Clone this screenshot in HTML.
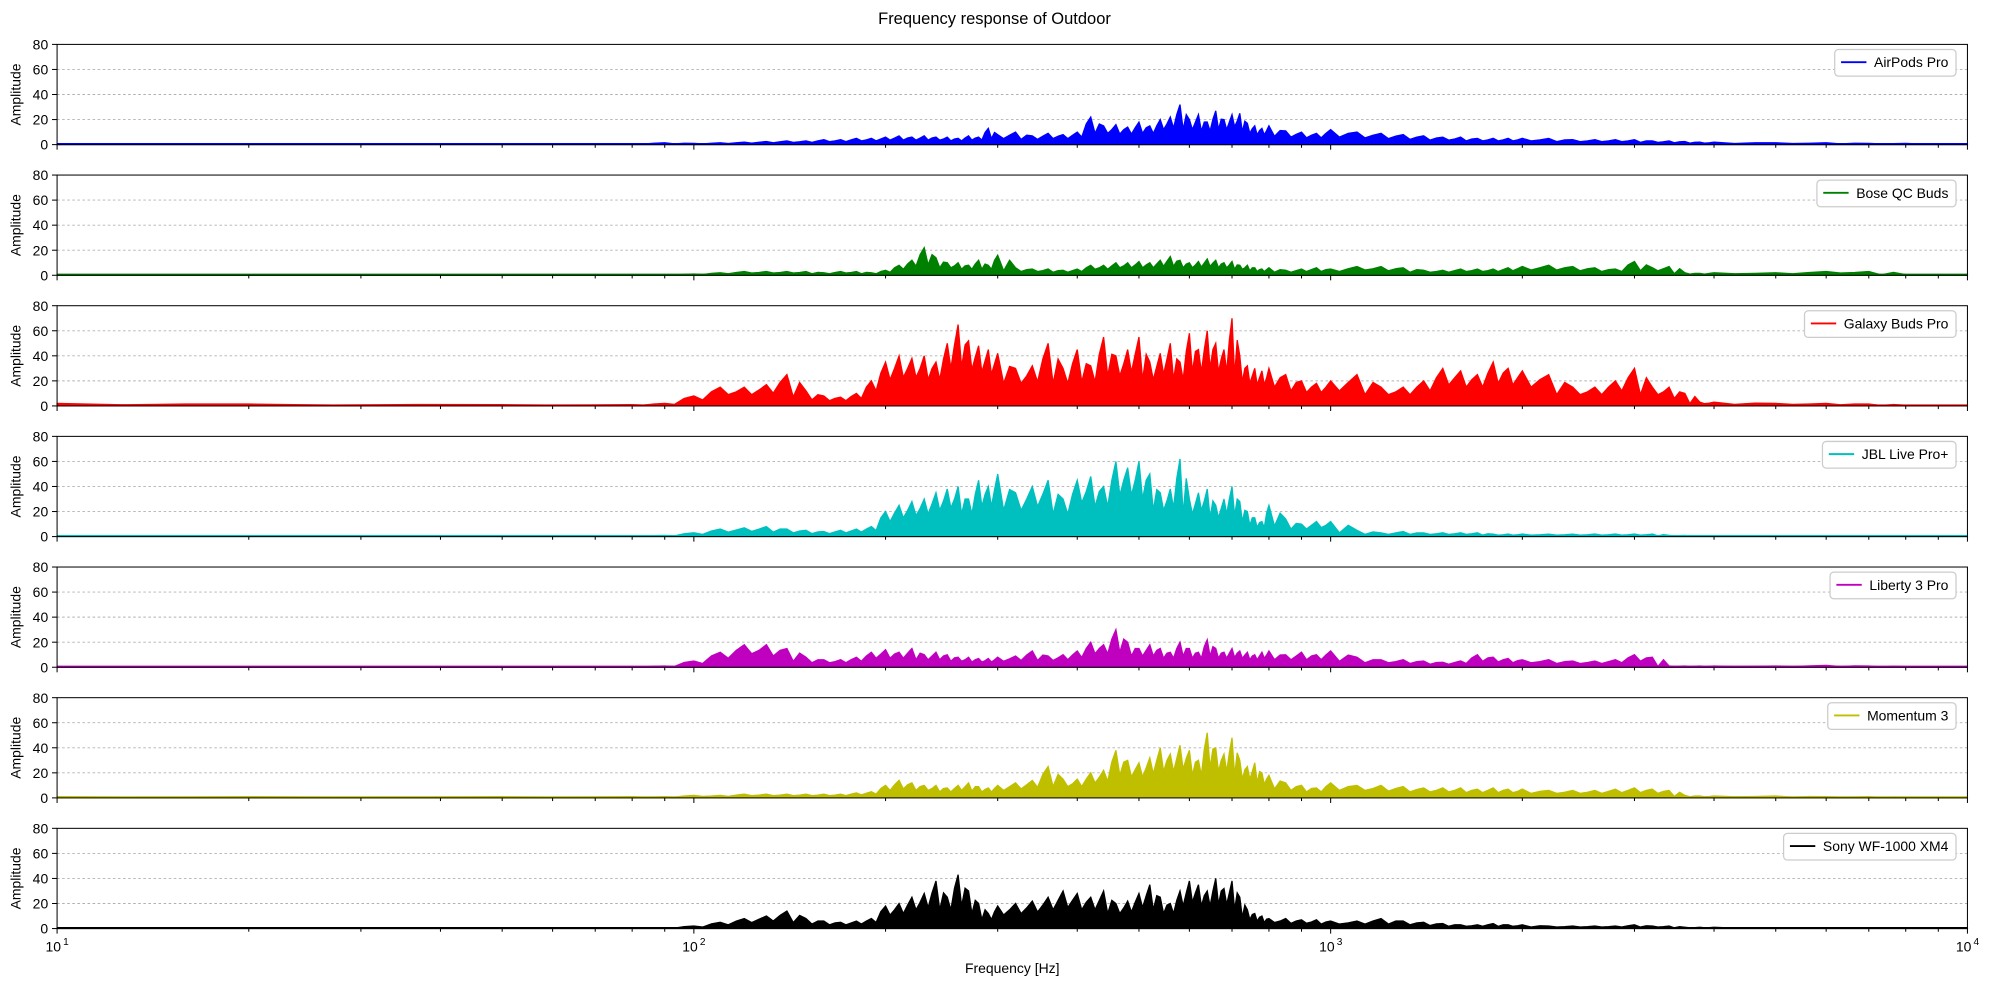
<!DOCTYPE html>
<html><head><meta charset="utf-8"><style>
body{margin:0;background:#fff;}
svg text{font-family:"Liberation Sans",sans-serif;fill:#000;}
</style></head><body>
<svg id="chart" width="1989" height="985" viewBox="0 0 1568 776.5" preserveAspectRatio="none" xmlns="http://www.w3.org/2000/svg">
<text x="784" y="19" font-size="13" text-anchor="middle">Frequency response of Outdoor</text>
<text x="798" y="767" font-size="11" text-anchor="middle">Frequency [Hz]</text>
</svg>
<script>
const freqs=[10,20,50,80,90,100,110,120,130,140,150,160,170,180,190,200,210,220,230,240,250,260,270,280,290,300,320,340,360,380,400,420,440,460,480,500,520,540,560,580,600,620,640,660,680,700,720,740,760,780,800,850,900,950,1000,1100,1200,1300,1400,1500,1600,1700,1800,1900,2000,2200,2400,2600,2800,3000,3200,3400,3600,3800,4000,5000,6000,7000,8000,10000];
const seriesNames=["AirPods Pro","Bose QC Buds","Galaxy Buds Pro","JBL Live Pro+","Liberty 3 Pro","Momentum 3","Sony WF-1000 XM4"];
const seriesColors=["#0000ff","#008000","#ff0000","#00bfbf","#bf00bf","#bfbf00","#000000"];
const airpods=[0.5,0.5,0.5,0.8,1.5,1,1.5,2,2.5,3,3,4,4,5,5,6,7,6,7,6,6,5,7,6,13,8,10,7,9,8,10,22,15,16,14,18,15,20,22,32,20,24,18,27,20,24,25,17,15,13,15,11,10,9,12,10,9,8,7,6,6,5,5,5,5,5,4,4,4,4,3,3,2.5,2,2,1.5,1.5,1,1,0.5];
const bose=[0.3,0.3,0.3,0.3,0.3,1,2,3,3,3,3,2,3,3,2,4,8,12,22,14,10,10,8,12,8,16,6,5,5,4,5,8,8,10,10,11,10,12,15,12,10,11,13,12,10,11,8,8,6,5,6,4,5,6,5,7,7,6,4,4,5,5,5,6,7,8,7,6,5,11,6,7,2,1.5,2,2,3,3,0.5,0.3];
const galaxy=[2,1.5,1,1,2,8,15,15,17,25,12,8,7,10,20,35,40,38,40,35,50,65,52,48,45,42,30,32,50,30,45,32,55,40,45,55,35,42,50,35,58,45,60,50,45,70,40,32,30,28,30,25,20,18,20,25,15,15,20,30,28,25,35,30,28,25,15,15,20,30,15,15,10,3,3,2,2,1.5,0.5,0.3];
const jbl=[0.5,0.5,0.5,0.5,1,3,6,7,8,6,5,4,5,6,8,20,25,28,30,35,38,40,30,45,40,50,35,40,45,30,45,48,40,60,55,60,50,35,38,62,30,35,38,25,30,40,28,20,15,12,25,14,10,12,12,5,3,4,3,3,3,3,2,2,2,2,2,2,2,2,2,1,1,0.5,0.5,0.3,0.3,0.3,0.3,0.3];
const liberty=[0.3,0.3,0.5,0.5,1,5,12,18,18,15,8,6,6,8,12,14,12,15,10,12,10,8,8,7,7,8,9,13,9,10,13,20,18,30,20,15,18,15,12,20,15,12,22,15,12,15,13,12,10,12,13,10,12,10,13,8,6,6,5,4,5,10,8,7,6,6,5,5,6,10,8,1,1,1,1,1,1.5,1,0.5,0.3];
const momentum=[1,1,1,1,1,2,2,3,3,3,3,3,3,4,5,10,14,12,10,10,8,10,12,9,8,10,12,14,25,15,15,20,22,38,30,28,32,40,35,42,38,30,52,40,35,48,30,25,28,20,18,12,10,8,12,10,10,9,8,8,8,7,8,7,7,6,6,6,7,8,7,6,2,1.5,1.5,1.5,1,1,0.5,0.3];
const sony=[0.3,0.3,0.3,0.3,0.5,2,5,8,10,14,8,6,5,6,8,18,20,25,28,38,25,43,30,20,12,18,20,22,25,30,28,25,30,20,22,28,35,25,20,30,38,35,30,40,32,38,25,15,12,10,8,8,7,7,6,6,8,6,5,4,3,3,4,3,3,2,2,2,2,3,2,2,1,1,1,0.5,0.5,0.3,0.3,0.3];
const allSeries=[airpods,bose,galaxy,jbl,liberty,momentum,sony];
const yTicks=[0,20,40,60,80];
const xMajor=[10,100,1000,10000];
const xMajorExp=["1","2","3","4"];
const NS="http://www.w3.org/2000/svg";
const svg=document.getElementById('chart');
const L=45,R=1551,panelTop0=35,panelH=79,panelStep=103;
function xs(f){return L+(R-L)*Math.log10(f/10)/3;}
function mk(t,a,p){const e=document.createElementNS(NS,t);for(const k in a)e.setAttribute(k,a[k]);(p||svg).appendChild(e);return e;}
for(let i=0;i<7;i++){
  const top=panelTop0+i*panelStep,bot=top+panelH;
  const ys=v=>bot-(v/80)*panelH;
  const g=mk('g',{});
  
  
  yTicks.forEach(t=>{
    if(t>0&&t<80){const gl=mk('line',{x1:L,x2:R,y1:ys(t),y2:ys(t),stroke:'#b0b0b0','stroke-width':0.7,'stroke-dasharray':'2,2'},g);
      }
    mk('line',{x1:L-4,x2:L,y1:ys(t),y2:ys(t),stroke:'#000','stroke-width':0.8},g);
    const tx=mk('text',{x:L-7,y:ys(t)+4,'font-size':11,'text-anchor':'end'},g);tx.textContent=t;
    
  });
  const yt=mk('text',{x:16,y:(top+bot)/2,'font-size':11,'text-anchor':'middle',transform:`rotate(-90 16 ${(top+bot)/2})`},g);
  yt.textContent='Amplitude';
  const vals=allSeries[i];
  let pts=[[xs(freqs[0]),bot]];
  for(let j=0;j<freqs.length;j++){
    pts.push([xs(freqs[j]),ys(vals[j])]);
    if(j<freqs.length-1){
      const a=xs(freqs[j]),b=xs(freqs[j+1]);
      pts.push([(a*2+b)/3,ys(Math.min(vals[j],vals[j+1])*0.6)]);
      pts.push([(a+b*2)/3,ys(Math.max(vals[j],vals[j+1])*0.75)]);
    }
  }
  pts.push([xs(freqs[freqs.length-1]),bot]);
  const poly=mk('polygon',{points:pts.map(p=>p.join(',')).join(' '),fill:seriesColors[i],stroke:seriesColors[i],'stroke-width':1},g);
  
  
  mk('line',{x1:L,x2:R,y1:bot-0.5,y2:bot-0.5,stroke:seriesColors[i],'stroke-width':1.5},g);
  mk('rect',{x:L,y:top,width:R-L,height:panelH,fill:'none',stroke:'#000','stroke-width':0.8},g);
  for(let d=0;d<3;d++){for(let m=1;m<=9;m++){const f=Math.pow(10,d+1)*m;const x=xs(f);
    mk('line',{x1:x,x2:x,y1:bot,y2:bot+(m===1?4:2.5),stroke:'#000','stroke-width':0.8},g);}}
  mk('line',{x1:R,x2:R,y1:bot,y2:bot+4,stroke:'#000','stroke-width':0.8},g);
  if(i===6){xMajor.forEach((f,k)=>{const t=mk('text',{x:xs(f)-3,y:bot+18,'font-size':11,'text-anchor':'middle'},g);
    t.textContent='10';
    const s=mk('text',{x:xs(f)+7,y:bot+13,'font-size':8,'text-anchor':'middle'},g);s.textContent=xMajorExp[k];
    });}
  const lg=mk('g',{},g);
  const box=mk('rect',{y:top+4,height:21,rx:3,fill:'#fff',stroke:'#ccc'},lg);
  const sample=mk('line',{y1:top+14,y2:top+14,stroke:seriesColors[i],'stroke-width':1.5},lg);
  const lt=mk('text',{x:0,y:top+18,'font-size':11},lg);lt.textContent=seriesNames[i];
  const tw=lt.getComputedTextLength();
  const w=tw+37;const x0=R-9-w;
  box.setAttribute('x',x0);box.setAttribute('width',w);
  sample.setAttribute('x1',x0+5);sample.setAttribute('x2',x0+25);
  lt.setAttribute('x',x0+31);
}
</script>
</body></html>
